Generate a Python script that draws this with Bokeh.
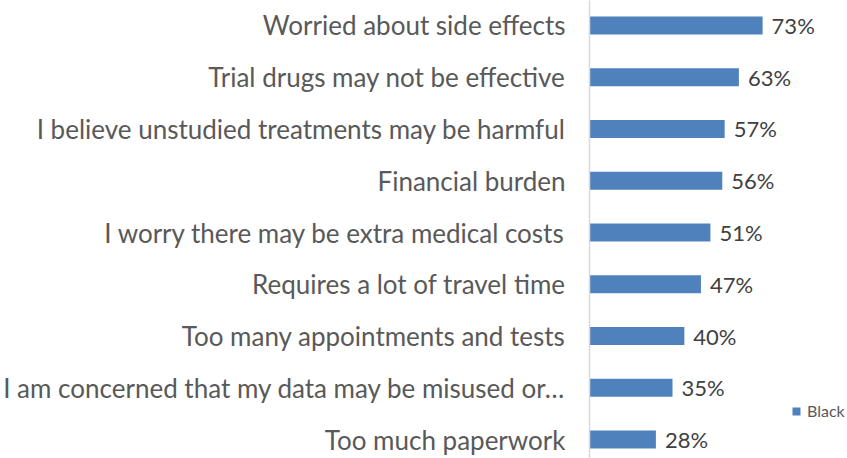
from bokeh.plotting import figure
from bokeh.models import Range1d, FixedTicker, ColumnDataSource, Legend, LegendItem
from bokeh.core.properties import value
from bokeh.embed import file_html
from bokeh.resources import INLINE

categories = [
    "Worried about side effects",
    "Trial drugs may not be effective",
    "I believe unstudied treatments may be harmful",
    "Financial burden",
    "I worry there may be extra medical costs",
    "Requires a lot of travel time",
    "Too many appointments and tests",
    "I am concerned that my data may be misused or…",
    "Too much paperwork",
]
black = [73, 63, 57, 56, 51, 47, 40, 35, 28]
series_name = "Black"

BAR = "#4f81bd"
FONT = "Lato"

idx = list(range(len(categories)))
src = ColumnDataSource(dict(
    y=idx,
    v=black,
    pct=[f"{v}%" for v in black],
))

# frame: left edge at 588 px, 2.383 px per percentage point, 51.75 px per category
p = figure(width=847, height=458, output_backend="svg", toolbar_location=None,
           x_range=Range1d(0, 108.8), y_range=Range1d(8.367, -0.483),
           min_border_left=588, min_border_right=0, min_border_top=0, min_border_bottom=0)
p.outline_line_color = None
p.grid.grid_line_color = None
p.xaxis.visible = False
p.background_fill_color = None
p.border_fill_color = "white"

r = p.hbar(y="y", right="v", left=0, height=0.348, source=src,
           fill_color=BAR, line_color=None)

p.yaxis.ticker = FixedTicker(ticks=idx)
p.yaxis.major_label_overrides = {i: c for i, c in zip(idx, categories)}
p.yaxis.major_label_text_font = FONT
p.yaxis.major_label_text_font_size = "26px"
p.yaxis.major_label_text_color = "#595959"
p.yaxis.major_label_standoff = 24
p.yaxis.major_tick_out = 0
p.yaxis.major_tick_in = 0
p.yaxis.major_tick_line_color = None
p.yaxis.minor_tick_line_color = None
p.yaxis.axis_line_color = "#d9d9d9"
p.yaxis.axis_line_width = 1.5

p.text(x="v", y="y", text="pct", source=src, x_offset=9,
       text_align="left", text_baseline="middle",
       text_font=value(FONT), text_font_size="22px", text_color="#404040")

legend = Legend(items=[LegendItem(label=series_name, renderers=[r])],
                location=(202, 38), padding=0, margin=0, spacing=0,
                glyph_width=10, glyph_height=10, label_standoff=6,
                label_text_font=FONT, label_text_font_size="16px",
                label_text_color="#595959", border_line_color=None,
                background_fill_alpha=0)
p.add_layout(legend)

open("out.html", "w").write(file_html(p, INLINE))
